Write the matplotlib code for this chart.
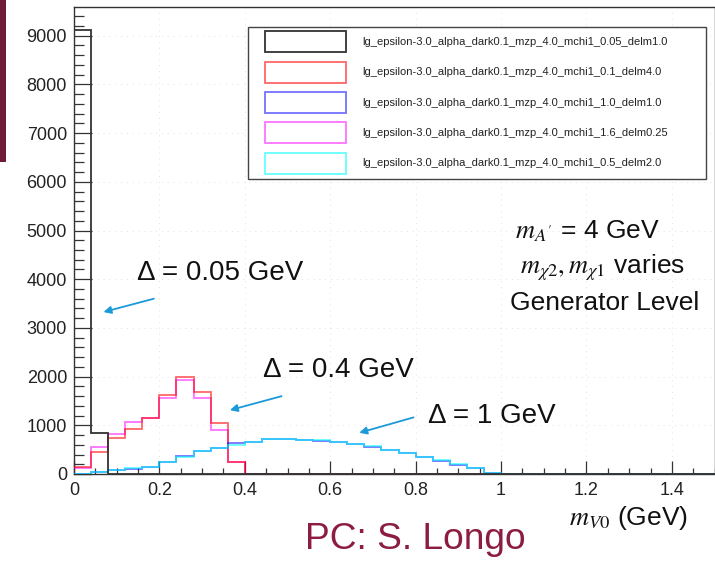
import numpy as np
import matplotlib
matplotlib.use("Agg")
import matplotlib.pyplot as plt
from matplotlib.patches import Rectangle
from matplotlib.ticker import MultipleLocator

plt.rcParams['font.family'] = ['Liberation Sans', 'DejaVu Sans']
plt.rcParams['mathtext.fontset'] = 'stix'

# ---- data ----
bin_edges = np.round(np.arange(0, 1.6001, 0.04), 4)  # 40 bins of 0.04 GeV

labels = [
    "lg_epsilon-3.0_alpha_dark0.1_mzp_4.0_mchi1_0.05_delm1.0",
    "lg_epsilon-3.0_alpha_dark0.1_mzp_4.0_mchi1_0.1_delm4.0",
    "lg_epsilon-3.0_alpha_dark0.1_mzp_4.0_mchi1_1.0_delm1.0",
    "lg_epsilon-3.0_alpha_dark0.1_mzp_4.0_mchi1_1.6_delm0.25",
    "lg_epsilon-3.0_alpha_dark0.1_mzp_4.0_mchi1_0.5_delm2.0",
]

black_counts = [9120, 850, 0, 0, 0, 0, 0, 0, 0, 0,
                0, 0, 0, 0, 0, 0, 0, 0, 0, 0,
                0, 0, 0, 0, 0, 0, 0, 0, 0, 0,
                0, 0, 0, 0, 0, 0, 0, 0, 0, 0]
red_counts = [150, 450, 740, 925, 1150, 1630, 2000, 1680, 1050, 240,
              0, 0, 0, 0, 0, 0, 0, 0, 0, 0,
              0, 0, 0, 0, 0, 0, 0, 0, 0, 0,
              0, 0, 0, 0, 0, 0, 0, 0, 0, 0]
blue_counts = [10, 40, 80, 110, 150, 250, 360, 475, 530, 630,
               650, 715, 710, 700, 685, 650, 615, 560, 490, 425,
               340, 275, 185, 115, 25, 0, 0, 0, 0, 0,
               0, 0, 0, 0, 0, 0, 0, 0, 0, 0]
magenta_counts = [120, 550, 830, 1060, 1150, 1560, 1940, 1560, 910, 240,
                  0, 0, 0, 0, 0, 0, 0, 0, 0, 0,
                  0, 0, 0, 0, 0, 0, 0, 0, 0, 0,
                  0, 0, 0, 0, 0, 0, 0, 0, 0, 0]
cyan_counts = [10, 40, 85, 115, 150, 240, 350, 470, 530, 600,
               650, 725, 715, 700, 690, 655, 620, 565, 495, 430,
               345, 280, 200, 125, 30, 0, 0, 0, 0, 0,
               0, 0, 0, 0, 0, 0, 0, 0, 0, 0]

series = [black_counts, red_counts, blue_counts, magenta_counts, cyan_counts]
colors = ['#333333', (1, 0, 0, 0.6), (0, 0, 1, 0.55), (1, 0, 1, 0.55), (0, 1, 1, 0.6)]

# ---- figure ----
W, H = 715, 561
fig = plt.figure(figsize=(W / 100, H / 100), dpi=100)
ax_left, ax_bottom, ax_top = 74, 474, 7
ax = fig.add_axes([ax_left / W, 1 - ax_bottom / H, (W - ax_left) / W, (ax_bottom - ax_top) / H])

# draw order: magenta below red, blue below cyan, black on top of all
draw_order = [3, 1, 2, 4, 0]
for i in draw_order:
    ax.stairs(series[i], bin_edges, color=colors[i], linewidth=1.3, baseline=None, zorder=3)

ax.set_xlim(0, 1.501)
ax.set_ylim(0, 9590)

ax.xaxis.set_major_locator(MultipleLocator(0.2))
ax.xaxis.set_minor_locator(MultipleLocator(0.05))
ax.yaxis.set_major_locator(MultipleLocator(1000))
ax.yaxis.set_minor_locator(MultipleLocator(200))
ax.set_xticks(np.arange(0, 1.41, 0.2))
ax.set_xticklabels(["0", "0.2", "0.4", "0.6", "0.8", "1", "1.2", "1.4"])

ax.tick_params(axis='both', which='both', direction='in', colors='#333333', labelcolor='#222222')
ax.tick_params(axis='x', which='major', length=9.5, width=0.9, labelsize=13, pad=6)
ax.tick_params(axis='x', which='minor', length=4.5, width=0.9)
ax.tick_params(axis='y', which='major', length=13, width=0.9, labelsize=13, pad=5)
ax.tick_params(axis='y', which='minor', length=7, width=0.9)

for s in ax.spines.values():
    s.set_color('#333333')
    s.set_linewidth(1.0)

ax.grid(True, which='major', linestyle=(0, (1, 6)), color='#d8d8d8', linewidth=0.6, zorder=0)

# ---- annotations ----
arrow_col = '#1a9ad8'
arrows = [((0.187, 3600), (0.069, 3326)),
          ((0.486, 1598), (0.365, 1311)),
          ((0.795, 1162), (0.668, 846))]
for tail, head in arrows:
    ax.annotate('', xy=head, xytext=tail,
                arrowprops=dict(arrowstyle='-|>', color=arrow_col, lw=1.3,
                                mutation_scale=11, shrinkA=0, shrinkB=0), zorder=4)

ax.text(0.1475, 3984, "Δ = 0.05 GeV", fontsize=20, va='baseline', ha='left', color='#111111')
ax.text(0.4426, 1992, "Δ = 0.4 GeV", fontsize=20, va='baseline', ha='left', color='#111111')
ax.text(0.829, 1047, "Δ = 1 GeV", fontsize=20, va='baseline', ha='left', color='#111111')

ax.text(1.033, 4846, r"$m_{A'}$ = 4 GeV", fontsize=19, va='baseline', ha='left', color='#111111')
ax.text(1.044, 4127, r"$m_{\chi2}, m_{\chi1}$ varies", fontsize=19, va='baseline', ha='left', color='#111111')
ax.text(1.021, 3368, "Generator Level", fontsize=19, va='baseline', ha='left', color='#111111')

# x axis title (ROOT style, right aligned)
fig.text(688 / W, 1 - 525 / H, r"$m_{V0}$ (GeV)", fontsize=19, ha='right', va='baseline', color='#111111')

# ---- legend (ROOT-style box) ----
fig.patches.append(Rectangle((248 / W, 1 - 179 / H), 458 / W, 152 / H, transform=fig.transFigure,
                             facecolor='white', edgecolor='#444444', linewidth=1.0, zorder=5))
for k, (lab, col) in enumerate(zip(labels, colors)):
    cy = 41.7 + k * 30.4
    fig.patches.append(Rectangle((265 / W, 1 - (cy + 10.5) / H), 81 / W, 21 / H, transform=fig.transFigure,
                                 facecolor='none', edgecolor=col, linewidth=1.3, zorder=6))
    fig.text(362 / W, 1 - cy / H, lab, fontsize=8, ha='left', va='center', color='#222222', zorder=6)

# ---- slide decorations ----
fig.patches.append(Rectangle((0, 1 - 162 / H), 6 / W, 162 / H, transform=fig.transFigure,
                             facecolor='#6e1c3a', edgecolor='none', zorder=7))
fig.text(305 / W, 1 - 549 / H, "PC: S. Longo", fontsize=26.7, ha='left', va='baseline', color='#8c1d40')

fig.savefig("out.png", dpi=100)
